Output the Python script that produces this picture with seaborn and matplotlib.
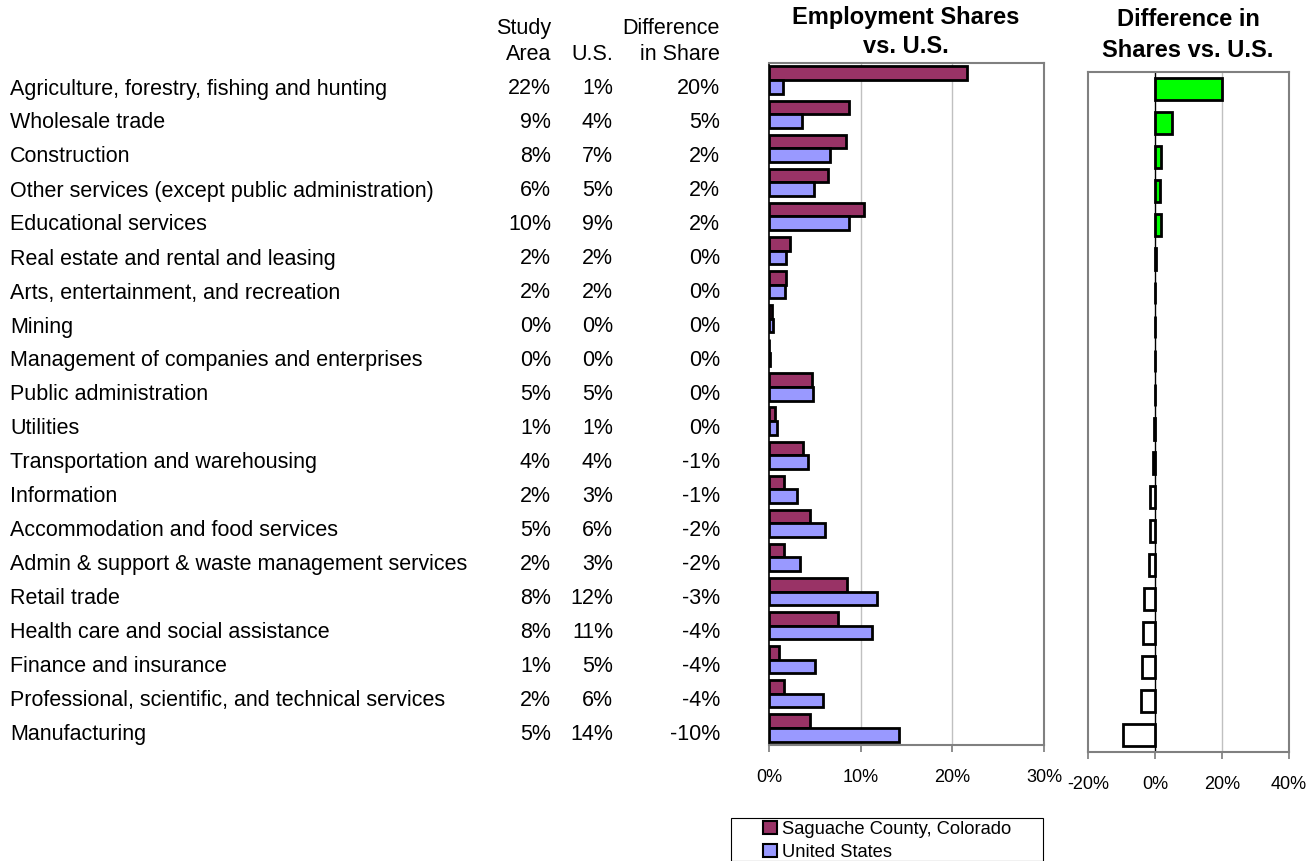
import pandas as pd
import matplotlib.pyplot as plt
import matplotlib.transforms as mtransforms
import seaborn as sns
from matplotlib.patches import Patch, Rectangle

industries = ["Agriculture, forestry, fishing and hunting", "Wholesale trade", "Construction",
              "Other services (except public administration)", "Educational services",
              "Real estate and rental and leasing", "Arts, entertainment, and recreation", "Mining",
              "Management of companies and enterprises", "Public administration", "Utilities",
              "Transportation and warehousing", "Information", "Accommodation and food services",
              "Admin & support & waste management services", "Retail trade",
              "Health care and social assistance", "Finance and insurance",
              "Professional, scientific, and technical services", "Manufacturing"]
study_share = [21.6, 8.7, 8.4, 6.4, 10.4, 2.3, 1.8, 0.3, 0.05, 4.7, 0.6, 3.7, 1.6, 4.5, 1.6, 8.5, 7.5, 1.1, 1.6, 4.5]
us_share = [1.5, 3.6, 6.7, 4.9, 8.7, 1.9, 1.7, 0.4, 0.1, 4.8, 0.9, 4.3, 3.0, 6.1, 3.4, 11.8, 11.2, 5.0, 5.9, 14.2]
diff_share = [20.1, 5.1, 1.7, 1.5, 1.7, 0.4, 0.1, -0.1, -0.1, -0.1, -0.3, -0.6, -1.4, -1.6, -1.8, -3.4, -3.7, -3.9, -4.3, -9.7]
study_lbl = ["22%", "9%", "8%", "6%", "10%", "2%", "2%", "0%", "0%", "5%", "1%", "4%", "2%", "5%", "2%", "8%", "8%", "1%", "2%", "5%"]
us_lbl = ["1%", "4%", "7%", "5%", "9%", "2%", "2%", "0%", "0%", "5%", "1%", "4%", "3%", "6%", "3%", "12%", "11%", "5%", "6%", "14%"]
diff_lbl = ["20%", "5%", "2%", "2%", "2%", "0%", "0%", "0%", "0%", "0%", "0%", "-1%", "-1%", "-2%", "-2%", "-3%", "-4%", "-4%", "-4%", "-10%"]
areas = ["Saguache County, Colorado", "United States"]

c_study = "#993366"
c_us = "#9999FF"
frame = "#808080"

sns.set_theme(style="white")
plt.rcParams['font.family'] = ['Liberation Sans', 'DejaVu Sans']
plt.rcParams['text.color'] = 'black'
fs = 15.5
tick_fs = 13

fig = plt.figure(figsize=(13.15, 8.61), dpi=100)
ax1 = fig.add_axes([769/1315, 1-745/861, 275/1315, 682/861])
ax2 = fig.add_axes([1088/1315, 1-752/861, 201/1315, 680/861])

# employment shares panel
df = pd.DataFrame({"industry": industries * 2,
                   "share": study_share + us_share,
                   "area": [areas[0]] * len(industries) + [areas[1]] * len(industries)})
sns.barplot(data=df, y="industry", x="share", hue="area", palette=[c_study, c_us],
            orient="h", ax=ax1, edgecolor="black", linewidth=2, width=0.8,
            saturation=1, legend=False)
ax1.set_xlim(0, 30)
ax1.set_xticks([0, 10, 20, 30])
ax1.set_xticklabels(["0%", "10%", "20%", "30%"], fontsize=tick_fs, color="black")
ax1.set_yticks([])
ax1.set_xlabel("")
ax1.set_ylabel("")
for v in [10, 20]:
    ax1.axvline(v, color="#C0C0C0", lw=1, zorder=0)
for s in ["top", "right", "bottom"]:
    ax1.spines[s].set_color(frame)
    ax1.spines[s].set_linewidth(1.5)
ax1.spines["left"].set_color("black")
ax1.spines["left"].set_linewidth(1.2)
ax1.tick_params(axis="x", bottom=True, length=5, color=frame, pad=12)

# difference panel
df2 = pd.DataFrame({"industry": industries, "diff": diff_share})
colors = ["#00FF00" if d > 0 else "white" for d in diff_share]
sns.barplot(data=df2, y="industry", x="diff", hue="industry", palette=colors,
            orient="h", ax=ax2, edgecolor="black", linewidth=2, width=0.65,
            saturation=1, legend=False)
ax2.set_xlim(-20, 40)
ax2.set_xticks([-20, 0, 20, 40])
ax2.set_xticklabels(["-20%", "0%", "20%", "40%"], fontsize=tick_fs, color="black")
ax2.set_yticks([])
ax2.set_xlabel("")
ax2.set_ylabel("")
ax2.axvline(20, color="#C0C0C0", lw=1, zorder=0)
ax2.axvline(0, color="black", lw=1, zorder=0)
for s in ax2.spines.values():
    s.set_color(frame)
    s.set_linewidth(1.5)
ax2.tick_params(axis="x", bottom=True, length=5, color=frame, pad=12)

# table
tr = mtransforms.blended_transform_factory(fig.transFigure, ax2.transData)
for i, name in enumerate(industries):
    fig.text(10/1315, i, name, transform=tr, ha="left", va="center", fontsize=fs)
    fig.text(551/1315, i, study_lbl[i], transform=tr, ha="right", va="center", fontsize=fs)
    fig.text(613/1315, i, us_lbl[i], transform=tr, ha="right", va="center", fontsize=fs)
    fig.text(720/1315, i, diff_lbl[i], transform=tr, ha="right", va="center", fontsize=fs)

fig.text(551/1315, 1-41.5/861, "Study\nArea", ha="right", va="center", fontsize=fs, linespacing=1.35)
fig.text(613/1315, 1-55/861, "U.S.", ha="right", va="center", fontsize=fs)
fig.text(720/1315, 1-41.5/861, "Difference\nin Share", ha="right", va="center", fontsize=fs, linespacing=1.35)

fig.text(906/1315, 1-32/861, "Employment Shares\nvs. U.S.", ha="center", va="center",
         fontsize=17, fontweight="bold", linespacing=1.35)
fig.text(1188/1315, 1-35/861, "Difference in\nShares vs. U.S.", ha="center", va="center",
         fontsize=17, fontweight="bold", linespacing=1.4)

# legend
fig.patches.append(Rectangle((731/1315, 0), 312/1315, 1-818/861, transform=fig.transFigure,
                             facecolor="white", edgecolor="black", linewidth=0.8))
handles = [Patch(facecolor=c_study, edgecolor="black", linewidth=1.5, label=areas[0]),
           Patch(facecolor=c_us, edgecolor="black", linewidth=1.5, label=areas[1])]
fig.legend(handles=handles, loc="upper center",
           bbox_to_anchor=(887/1315, 1-821/861), fontsize=13.2, frameon=False,
           borderpad=0, labelspacing=0.3, handlelength=0.75, handleheight=0.75,
           handletextpad=0.25, borderaxespad=0)

fig.savefig("out.png", dpi=100)
